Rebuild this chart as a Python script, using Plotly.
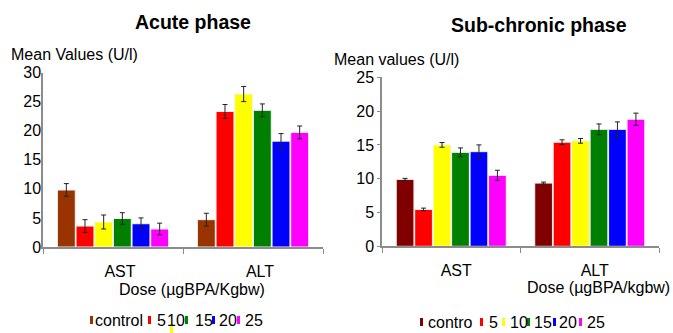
import plotly.graph_objects as go

categories = ["AST", "ALT"]
doses = ["control", "5", "10", "15", "20", "25"]
legend_labels_acute = ["control", "5", "10", "15", "20", "25"]
legend_labels_sub = ["contro", "5", "10", "15", "20", "25"]
colors_acute = ["#993300", "#FF0000", "#FFFF00", "#008000", "#0000FF", "#FF00FF"]
colors_sub = ["#800000", "#FF0000", "#FFFF00", "#008000", "#0000FF", "#FF00FF"]

# Acute phase: values per dose for [AST, ALT]
acute_vals = {
    "control": [9.8, 4.7],
    "5": [3.6, 23.3],
    "10": [4.3, 26.3],
    "15": [4.9, 23.5],
    "20": [4.0, 18.2],
    "25": [3.1, 19.7],
}
acute_err = {
    "control": [1.1, 1.1],
    "5": [1.1, 1.2],
    "10": [1.2, 1.3],
    "15": [1.0, 1.1],
    "20": [1.0, 1.3],
    "25": [1.0, 1.1],
}
# Sub-chronic phase
sub_vals = {
    "control": [9.9, 9.35],
    "5": [5.45, 15.4],
    "10": [15.0, 15.6],
    "15": [13.9, 17.3],
    "20": [14.0, 17.3],
    "25": [10.5, 18.8],
}
sub_err = {
    "control": [0.15, 0.15],
    "5": [0.2, 0.35],
    "10": [0.35, 0.35],
    "15": [0.65, 0.8],
    "20": [1.0, 1.1],
    "25": [0.75, 0.9],
}

FONT = "Liberation Sans, Arial, sans-serif"
fig = go.Figure()

for i, d in enumerate(doses):
    fig.add_trace(go.Bar(
        x=categories, y=acute_vals[d], name=d, xaxis="x", yaxis="y",
        marker=dict(color=colors_acute[i], line=dict(color="#f4f4f4", width=1)),
        error_y=dict(type="data", array=acute_err[d], color="#222222", thickness=1, width=2.5),
        showlegend=False,
    ))
for i, d in enumerate(doses):
    fig.add_trace(go.Bar(
        x=categories, y=sub_vals[d], name=d, xaxis="x2", yaxis="y2",
        marker=dict(color=colors_sub[i], line=dict(color="#f4f4f4", width=1)),
        error_y=dict(type="data", array=sub_err[d], color="#222222", thickness=1, width=2.5),
        showlegend=False,
    ))

W, H = 673, 333
axis_common = dict(showgrid=False, zeroline=False, showline=True, linecolor="#8c8c8c",
                   linewidth=1.5, automargin=False)

def yd(top_px, bot_px):
    return [1 - bot_px / H, 1 - top_px / H]

fig.update_layout(
    width=W, height=H, margin=dict(l=0, r=0, t=0, b=0),
    paper_bgcolor="white", plot_bgcolor="white",
    font=dict(family=FONT, color="#000000"),
    barmode="group", bargap=0.2, bargroupgap=0.04,
    xaxis=dict(domain=[43 / W, 323 / W], anchor="y", type="category",
               ticks="outside", tickson="boundaries", ticklen=5, tickcolor="#8c8c8c",
               tickfont=dict(size=16), ticklabelshift=7, ticklabelstandoff=9, **axis_common),
    yaxis=dict(domain=yd(72.5, 247), anchor="x", range=[0, 30], dtick=5,
               ticks="", tickfont=dict(size=16), ticklabelstandoff=-3, **axis_common),
    xaxis2=dict(domain=[382 / W, 659 / W], anchor="y2", type="category",
                ticks="outside", tickson="boundaries", ticklen=5, tickcolor="#8c8c8c",
                tickfont=dict(size=16), ticklabelshift=5, ticklabelstandoff=9, **axis_common),
    yaxis2=dict(domain=yd(77.3, 246.3), anchor="x2", range=[0, 25], dtick=5,
                ticks="outside", ticklen=3, tickcolor="#8c8c8c",
                tickfont=dict(size=16), ticklabelstandoff=0, **axis_common),
)

def ann(text, x, y, size, xanchor="center", bold=False):
    if bold:
        text = "<b>" + text + "</b>"
    fig.add_annotation(text=text, x=x / W, y=1 - y / H, xref="paper", yref="paper",
                       xanchor=xanchor, yanchor="middle", showarrow=False,
                       font=dict(size=size, family=FONT, color="#000000"))

ann("Acute phase", 193, 22, 19.5, bold=True)
ann("Sub-chronic phase", 539, 25, 19.5, bold=True)
ann("Mean Values (U/l)", 9, 54, 16, xanchor="left")
ann("Mean values (U/l)", 332, 60, 16, xanchor="left")
ann("Dose (µgBPA/Kgbw)", 192, 289, 16)
ann("Dose (µgBPA/kgbw)", 672, 287, 16, xanchor="right")

def marker(x0, y0, x1, y1, color):
    fig.add_shape(type="rect", xref="paper", yref="paper",
                  x0=x0 / W, x1=x1 / W, y0=1 - y1 / H, y1=1 - y0 / H,
                  fillcolor=color, line=dict(width=0))

# Legend layout (pixel positions)
left_marker_x = [90, 148, 170, 185, 212, 237]
left_text_x = [93, 155, 165, 193, 217, 243]
for i, lab in enumerate(legend_labels_acute):
    mx = left_marker_x[i]
    if i == 2:
        marker(mx, 324, mx + 3, 333, colors_acute[i])
    else:
        marker(mx, 316, mx + 3, 324, colors_acute[i])
    ann(lab, left_text_x[i], 320, 16, xanchor="left")

right_marker_x = [420, 480, 502, 527, 553, 579]
right_text_x = [426, 487, 508, 532, 557, 585]
for i, lab in enumerate(legend_labels_sub):
    marker(right_marker_x[i], 318, right_marker_x[i] + 3, 326, colors_sub[i])
    ann(lab, right_text_x[i], 322, 16, xanchor="left")

fig.write_html("out.html", post_script=["document.body.style.margin='0';"],
               config={"displayModeBar": False})
